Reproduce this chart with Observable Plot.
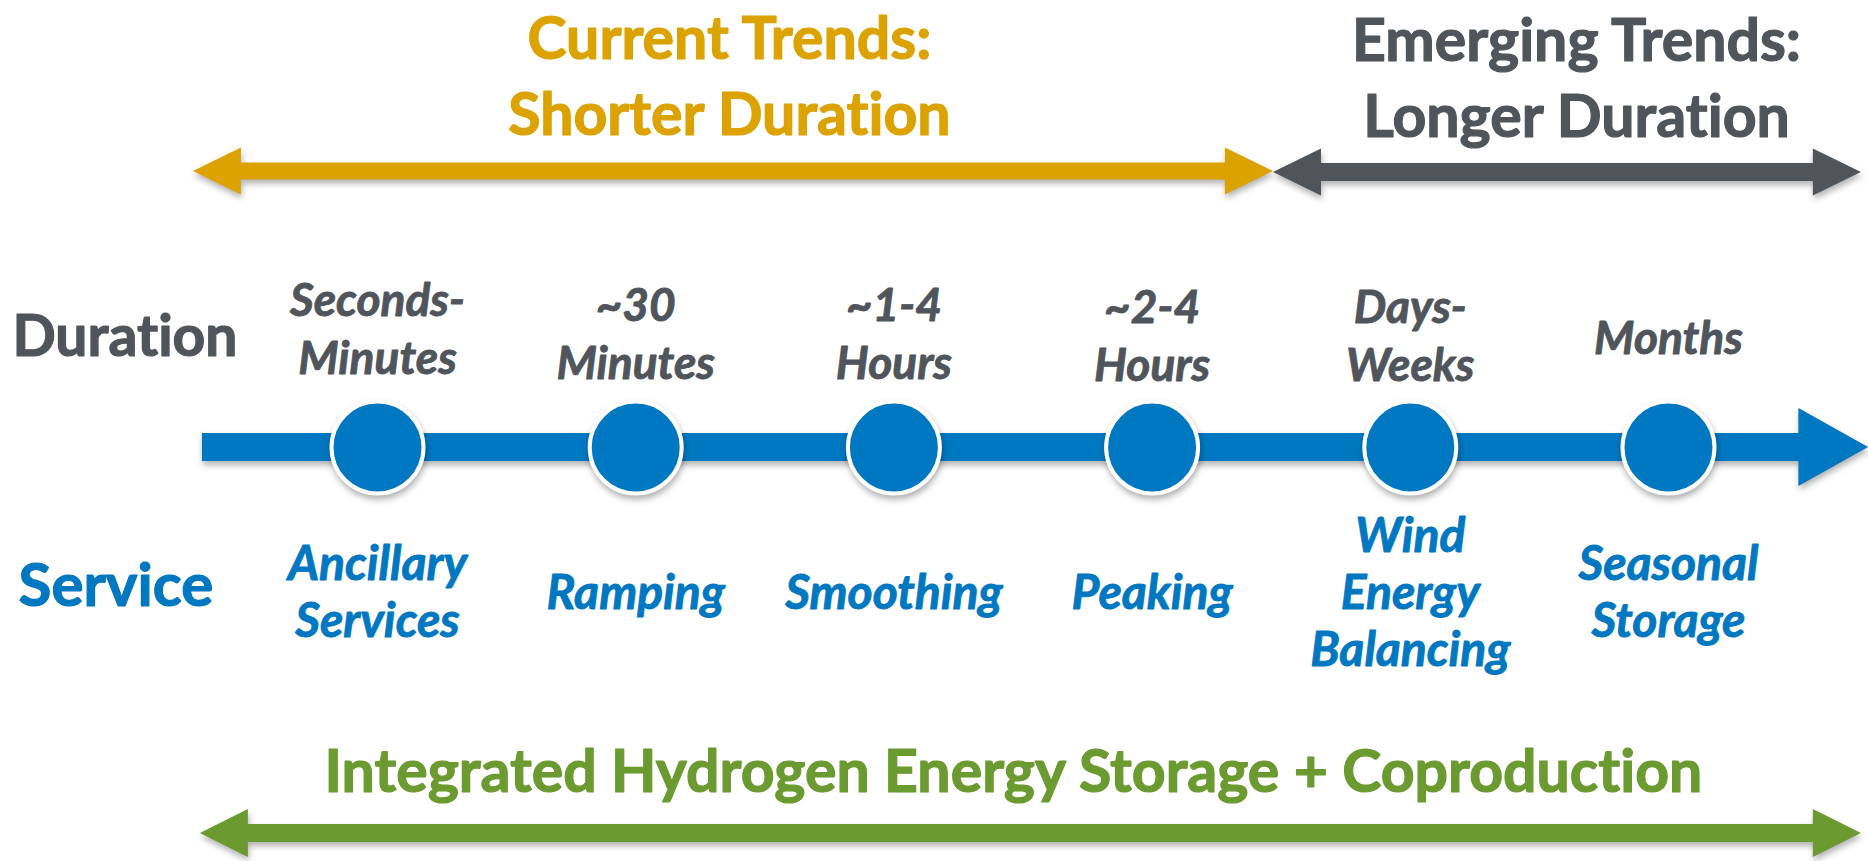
<!DOCTYPE html>
<html><head><meta charset="utf-8">
<script src="https://cdn.jsdelivr.net/npm/d3@7"></script>
<script src="https://cdn.jsdelivr.net/npm/@observablehq/plot@0.6"></script>
<style>html,body{margin:0;padding:0;background:#fff;overflow:hidden} svg text{font-variant-ligatures:none}</style>
</head><body><div id="chart"></div>
<script>
// ---- data ----
const stages = [0, 1, 2, 3, 4, 5];
const durationLabels = ["Seconds-\nMinutes", "~30\nMinutes", "~1-4\nHours", "~2-4\nHours", "Days-\nWeeks", "Months"];
const serviceLabels = ["Ancillary\nServices", "Ramping", "Smoothing", "Peaking", "Wind\nEnergy\nBalancing", "Seasonal\nStorage"];
const rowLabels = ["Duration", "Service"];
const trendLabels = ["Current Trends:\nShorter Duration", "Emerging Trends:\nLonger Duration"];
const trendFrom = [-0.713, 3.47];
const trendTo = [3.47, 5.747];
const trendCenter = [1.363, 4.644];
const footerLabel = "Integrated Hydrogen Energy Storage + Coproduction";
const footerFrom = -0.686, footerTo = 5.747, footerCenter = 2.463;
const timelineFrom = -0.678, timelineTo = 5.775;

// ---- layout & style ----
const W = 1868, H = 861;
const C = {gold: "#dca200", grey: "#50555c", blue: "#0077c1", green: "#6b9a30"};
const Y = {trendText: [72, 74], durText: [326, 331, 331, 333, 333, 335], timeline: 447, servText: 590, footText: 773, rowLabel: [337, 586]};
const FONT = "Lato, 'Open Sans', sans-serif";
const SHADOW = "drop-shadow(1px 4px 3px rgba(0,0,0,0.3))";

const arrows = [
  {id: "current", from: trendFrom[0], to: trendTo[0], y: 171, shaft: 8.5, head: 23.5, len: 0.186, both: true, color: C.gold},
  {id: "emerging", from: trendFrom[1], to: trendTo[1], y: 172, shaft: 9, head: 23.5, len: 0.186, both: true, color: C.grey},
  {id: "timeline", from: timelineFrom, to: timelineTo, y: Y.timeline, shaft: 14, head: 39, len: 0.27, both: false, color: C.blue},
  {id: "footer", from: footerFrom, to: footerTo, y: 833, shaft: 9, head: 24, len: 0.186, both: true, color: C.green}
];
function outline(a) {
  const pts = [];
  if (a.both) pts.push({x: a.from, h: 0}, {x: a.from + a.len, h: a.head}, {x: a.from + a.len, h: a.shaft});
  else pts.push({x: a.from, h: a.shaft});
  pts.push({x: a.to - a.len, h: a.shaft}, {x: a.to - a.len, h: a.head}, {x: a.to, h: 0});
  return pts.map(p => ({id: a.id, x: p.x, y1: a.y - p.h, y2: a.y + p.h, color: a.color}));
}
const arrowPts = arrows.flatMap(outline);

const chart = Plot.plot({
  width: W, height: H, margin: 0,
  x: {domain: [-377 / 258.2, (W - 377) / 258.2], range: [0, W], axis: null},
  y: {domain: [0, H], range: [0, H], axis: null},
  color: {type: "identity"},
  style: {background: "#fff", fontFamily: FONT},
  marks: [
    Plot.area(arrowPts, {x1: "x", y1: "y1", y2: "y2", z: "id", fill: "color", curve: "linear", imageFilter: SHADOW}),
    Plot.dot(stages, {x: d => d, y: Y.timeline, r: 46, fill: C.blue, stroke: "white", strokeWidth: 4, imageFilter: SHADOW}),
    Plot.text(trendLabels, {x: (d, i) => trendCenter[i], y: (d, i) => Y.trendText[i], text: d => d,
      fill: (d, i) => [C.gold, C.grey][i], stroke: (d, i) => [C.gold, C.grey][i], strokeWidth: 1.2,
      fontSize: 59, fontWeight: "bold", lineHeight: 1.29, fontFamily: FONT}),
    Plot.text(rowLabels, {x: (d, i) => [-1.414, -1.39][i], y: (d, i) => Y.rowLabel[i], text: d => d, textAnchor: "start",
      fill: (d, i) => [C.grey, C.blue][i], stroke: (d, i) => [C.grey, C.blue][i], strokeWidth: 1.2,
      fontSize: (d, i) => [57, 60][i], fontWeight: "bold", fontFamily: FONT}),
    Plot.text(durationLabels, {x: (d, i) => stages[i], y: (d, i) => Y.durText[i], text: d => d, fill: C.grey,
      stroke: C.grey, strokeWidth: 0.9,
      fontSize: 46, fontWeight: "bold", fontStyle: "italic", lineHeight: 1.26, fontFamily: FONT}),
    Plot.text(serviceLabels, {x: (d, i) => stages[i], y: Y.servText, text: d => d, fill: C.blue,
      stroke: C.blue, strokeWidth: 0.9,
      fontSize: 48, fontWeight: "bold", fontStyle: "italic", lineHeight: 1.19, fontFamily: FONT}),
    Plot.text([footerLabel], {x: footerCenter, y: Y.footText, text: d => d, fill: C.green,
      stroke: C.green, strokeWidth: 1.2,
      fontSize: 59, fontWeight: "bold", fontFamily: FONT})
  ]
});
document.getElementById("chart").appendChild(chart);
</script>
</body></html>
